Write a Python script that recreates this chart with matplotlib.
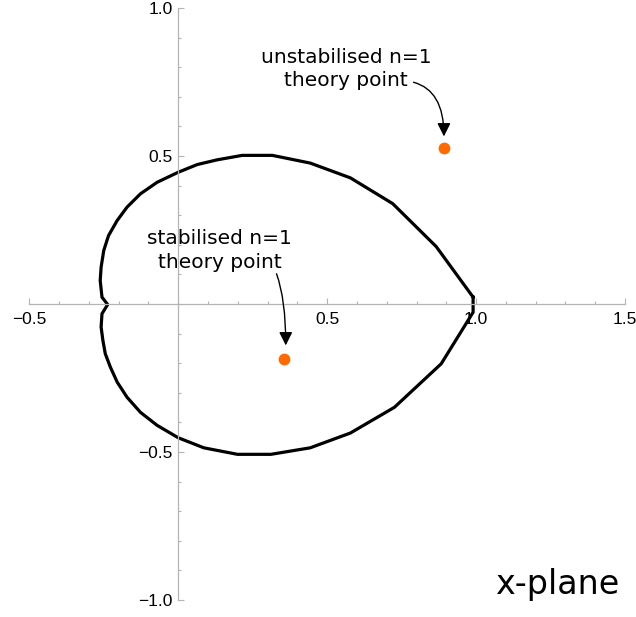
import numpy as np
import matplotlib
matplotlib.use('Agg')
import matplotlib.pyplot as plt
from matplotlib.ticker import FixedLocator, MultipleLocator

# boundary curve, upper half (right tip -> cusp) then lower half (cusp -> right tip)
curve_x = [0.990, 0.866, 0.720, 0.578, 0.443, 0.316, 0.215, 0.131, 0.064, 0.000,
           -0.071, -0.127, -0.172, -0.205, -0.234, -0.250, -0.259, -0.262, -0.256,
           -0.237,
           -0.256, -0.259, -0.253, -0.245, -0.228, -0.205, -0.172, -0.127, -0.071,
           0.000, 0.086, 0.199, 0.311, 0.443, 0.578, 0.726, 0.883, 0.990, 0.990]
curve_y = [0.023, 0.194, 0.339, 0.426, 0.476, 0.502, 0.502, 0.487, 0.471, 0.445,
           0.411, 0.372, 0.327, 0.282, 0.231, 0.181, 0.124, 0.079, 0.023,
           -0.002,
           -0.033, -0.078, -0.123, -0.168, -0.213, -0.264, -0.315, -0.366, -0.410,
           -0.452, -0.486, -0.508, -0.508, -0.486, -0.436, -0.349, -0.202, -0.028, 0.023]

# theory points
pt_x = [0.891, 0.356]
pt_y = [0.526, -0.185]
pt_labels = ['unstabilised n=1\ntheory point', 'stabilised n=1\ntheory point']

x_ticks = [-0.5, 0.5, 1.0, 1.5]
y_ticks = [-1.0, -0.5, 0.5, 1.0]


def fmt(v):
    s = '%.1f' % abs(v)
    return ('\u2212' + s) if v < 0 else s


fig = plt.figure(figsize=(6.36, 6.17), dpi=100)
ax = fig.add_axes([0.0461, 0.0276, 0.9366, 0.9595])

ax.plot(curve_x, curve_y, color='black', lw=2.3, solid_joinstyle='miter')
ax.plot(pt_x, pt_y, 'o', color='#ff6a00', ms=8.5, mec='none')

ax.set_xlim(-0.5, 1.5)
ax.set_ylim(-1.0, 1.0)

# mathematica style axes through the origin
for side in ['top', 'right']:
    ax.spines[side].set_visible(False)
for side in ['left', 'bottom']:
    ax.spines[side].set_position(('data', 0))
    ax.spines[side].set_color('#b4b4b4')
    ax.spines[side].set_linewidth(0.9)

ax.xaxis.set_major_locator(FixedLocator(x_ticks))
ax.yaxis.set_major_locator(FixedLocator(y_ticks))
ax.xaxis.set_minor_locator(MultipleLocator(0.1))
ax.yaxis.set_minor_locator(MultipleLocator(0.1))
ax.set_xticklabels([fmt(v) for v in x_ticks])
ax.set_yticklabels([fmt(v) for v in y_ticks])

ax.tick_params(which='both', direction='in', color='#b4b4b4', width=0.8)
ax.tick_params(which='major', length=4)
ax.tick_params(which='minor', length=2.5)
ax.tick_params(axis='x', which='major', pad=6)
ax.tick_params(axis='y', which='major', pad=4)
for lab in ax.get_xticklabels() + ax.get_yticklabels():
    lab.set_fontfamily('Liberation Sans')
    lab.set_fontsize(12.5)
    lab.set_color('black')

# annotations
ax.text(0.563, 0.793, pt_labels[0], ha='center', va='center', fontsize=14.5,
        family='DejaVu Sans', linespacing=1.3)
ax.text(0.14, 0.180, pt_labels[1], ha='center', va='center', fontsize=14.5,
        family='DejaVu Sans', linespacing=1.3)

ax.annotate('', xy=(0.892, 0.566), xytext=(0.790, 0.749),
            arrowprops=dict(arrowstyle='-|>', color='black', lw=1.0,
                            mutation_scale=20, shrinkA=0, shrinkB=0,
                            connectionstyle='angle3,angleA=-15,angleB=90'))
ax.annotate('', xy=(0.361, -0.140), xytext=(0.330, 0.102),
            arrowprops=dict(arrowstyle='-|>', color='black', lw=1.0,
                            mutation_scale=20, shrinkA=0, shrinkB=0,
                            connectionstyle='angle3,angleA=-70,angleB=90'))

ax.text(1.48, -0.98, 'x-plane', ha='right', va='baseline', fontsize=24,
        family='DejaVu Sans')

fig.savefig('out.png', dpi=100)
